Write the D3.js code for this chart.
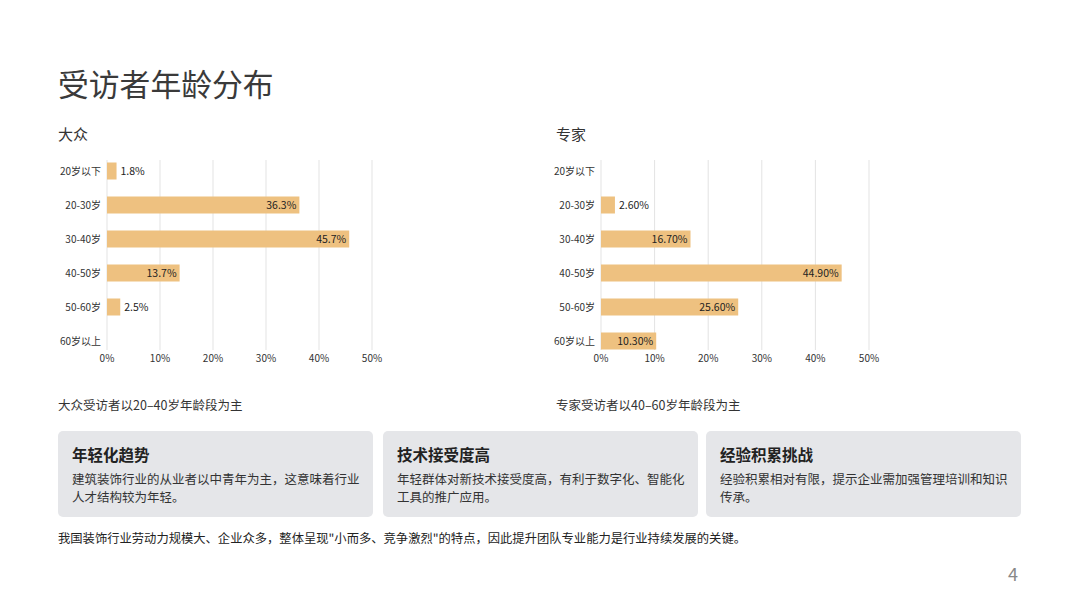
<!DOCTYPE html>
<html><head><meta charset="utf-8">
<script src="https://cdn.jsdelivr.net/npm/d3@7"></script>
<style>
html,body{margin:0;padding:0;background:#fff;}
svg{display:block;font-family:"Noto Sans CJK SC","Noto Sans",sans-serif;}
</style></head>
<body><svg id="c" width="1080" height="608"></svg>
<script>
const categories = ["20岁以下","20-30岁","30-40岁","40-50岁","50-60岁","60岁以上"];
const publicValues = [1.8, 36.3, 45.7, 13.7, 2.5, 0];
const publicLabels = ["1.8%","36.3%","45.7%","13.7%","2.5%",""];
const expertValues = [0, 2.6, 16.7, 44.9, 25.6, 10.3];
const expertLabels = ["","2.60%","16.70%","44.90%","25.60%","10.30%"];
const xTicks = [0,10,20,30,40,50];
const cards = [
  {title:"年轻化趋势", lines:["建筑装饰行业的从业者以中青年为主，这意味着行业","人才结构较为年轻。"]},
  {title:"技术接受度高", lines:["年轻群体对新技术接受度高，有利于数字化、智能化","工具的推广应用。"]},
  {title:"经验积累挑战", lines:["经验积累相对有限，提示企业需加强管理培训和知识","传承。"]}
];

const svg = d3.select("#c");
const ink = "#333";

svg.append("text").attr("x",58).attr("y",96).attr("font-size",30.8).attr("fill","#3a3a3a").text("受访者年龄分布");

function chart(tx, x0, x1, title, values, labels, caption){
  svg.append("text").attr("x",tx).attr("y",140).attr("font-size",15).attr("fill",ink).text(title);
  const x = d3.scaleLinear().domain([0,50]).range([x0,x1]);
  const y = d3.scaleBand().domain(categories).range([154,358]).paddingInner(0.5).paddingOuter(0.25);
  const g = svg.append("g");
  g.selectAll("line.grid").data(xTicks).join("line")
    .attr("x1",d=>x(d)).attr("x2",d=>x(d)).attr("y1",160).attr("y2",350)
    .attr("stroke","#e3e3e3").attr("stroke-width",1);
  g.selectAll("text.xt").data(xTicks).join("text")
    .attr("x",d=>x(d)).attr("y",362).attr("text-anchor","middle")
    .attr("font-size",10).attr("fill",ink).text(d=>d+"%");
  g.selectAll("text.yl").data(categories).join("text")
    .attr("x",x0-6).attr("y",d=>y(d)+y.bandwidth()/2+3.5).attr("text-anchor","end")
    .attr("font-size",10).attr("fill",ink).text(d=>d);
  g.selectAll("rect.bar").data(values).join("rect")
    .attr("x",x(0)).attr("y",(d,i)=>y(categories[i]))
    .attr("width",d=>x(d)-x(0)).attr("height",y.bandwidth())
    .attr("fill","#EEC180");
  g.selectAll("text.vl").data(values).join("text")
    .attr("x",d=> d>8 ? x(d)-3 : x(d)+4)
    .attr("text-anchor",d=> d>8 ? "end":"start")
    .attr("y",(d,i)=>y(categories[i])+y.bandwidth()/2+3.7)
    .attr("font-size",10.5).attr("fill","#222").text((d,i)=>labels[i]);
  svg.append("text").attr("x",tx).attr("y",410).attr("font-size",12.5).attr("fill",ink).text(caption);
}
chart(58, 107, 372, "大众", publicValues, publicLabels, "大众受访者以20–40岁年龄段为主");
chart(556, 601, 869, "专家", expertValues, expertLabels, "专家受访者以40–60岁年龄段为主");

const cardX = [58, 383, 706];
const cardW = 315;
cards.forEach((c,i)=>{
  const g = svg.append("g").attr("transform",`translate(${cardX[i]},431)`);
  g.append("rect").attr("width",cardW).attr("height",86).attr("rx",5).attr("fill","#E5E6E9");
  g.append("text").attr("x",14).attr("y",30).attr("font-size",15.5).attr("font-weight","bold").attr("fill","#222").text(c.title);
  c.lines.forEach((l,j)=>{
    g.append("text").attr("x",14).attr("y",53+j*18).attr("font-size",12.5).attr("fill",ink).text(l);
  });
});

svg.append("text").attr("x",58).attr("y",543).attr("font-size",12.3).attr("fill","#222")
  .text("我国装饰行业劳动力规模大、企业众多，整体呈现\"小而多、竞争激烈\"的特点，因此提升团队专业能力是行业持续发展的关键。");
svg.append("text").attr("x",1013).attr("y",581).attr("font-size",18).attr("text-anchor","middle").attr("fill","#888").text("4");
</script></body></html>
